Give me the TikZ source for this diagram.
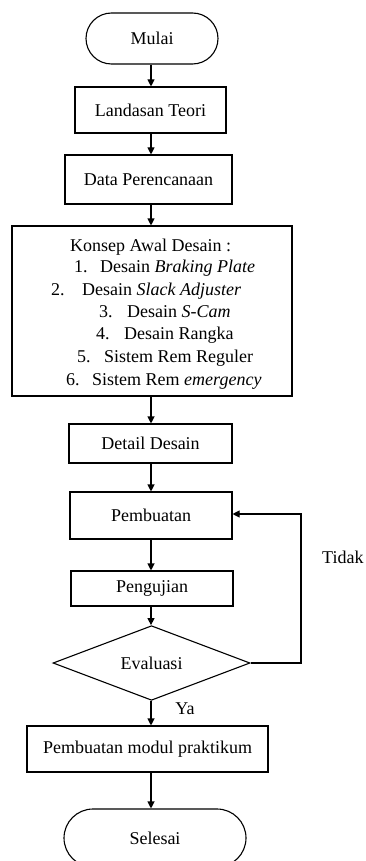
\documentclass[tikz,border=0pt]{standalone}
\usepackage{fontspec}
\setmainfont{Liberation Serif}
\usetikzlibrary{arrows.meta,shapes.misc,shapes.geometric}
\begin{document}
\begin{tikzpicture}[x=1pt,y=-1pt,
  every node/.style={font=\fontsize{18}{22.5}\selectfont},
  box/.style={draw,line width=1.1pt,rectangle,inner sep=0pt},
  term/.style={draw,line width=1.1pt,rounded rectangle,inner sep=0pt},
  dec/.style={draw,line width=1.1pt,diamond,inner sep=0pt},
  arr/.style={line width=1.1pt,-{Triangle[length=7pt,width=7pt]}},
  lst/.style={anchor=base west,inner sep=0pt},
  lbl/.style={inner sep=0pt}]
\useasboundingbox (0,0) rectangle (366,861);
\coordinate (axis) at (151,0);
\coordinate (fb) at (301,0);
\node[term,minimum width=132pt,minimum height=51pt] (mulai) at (152,38.5) {Mulai};
\node[box,minimum width=151pt,minimum height=46pt] (teori) at (150.5,110) {Landasan Teori};
\node[box,minimum width=167pt,minimum height=49pt] (data) at (148.5,179.5) {Data Perencanaan};
\node[box,minimum width=280pt,minimum height=170pt] (konsep) at (152,311) {};
\node[lst] (k0) at (70,251) {Konsep Awal Desain :};
\node[lst] (k1) at (74,272) {\makebox[26pt][l]{1.}Desain \textit{Braking Plate}};
\node[lst] (k2) at (51,295) {\makebox[31pt][l]{2.}Desain \textit{Slack Adjuster}};
\node[lst] (k3) at (99,317) {\makebox[28pt][l]{3.}Desain \textit{S-Cam}};
\node[lst] (k4) at (96,339) {\makebox[28pt][l]{4.}Desain Rangka};
\node[lst] (k5) at (77,362) {\makebox[27pt][l]{5.}Sistem Rem Reguler};
\node[lst] (k6) at (66,385) {\makebox[26pt][l]{6.}Sistem Rem \textit{emergency}};
\node[box,minimum width=163pt,minimum height=39pt] (detail) at (150.5,443.5) {Detail Desain};
\node[box,minimum width=162pt,minimum height=47pt] (pemb) at (151,515.5) {Pembuatan};
\node[box,minimum width=162pt,minimum height=35pt] (uji) at (152,588.5) {Pengujian};
\node[dec,minimum width=197pt,minimum height=64pt] (eval) at (151.5,663) {Evaluasi};
\node[box,minimum width=241pt,minimum height=46pt] (modul) at (147.5,749) {Pembuatan modul praktikum};
\node[term,minimum width=182pt,minimum height=58pt] (selesai) at (155,838) {Selesai};
\node[lbl,anchor=west] (tidak) at (322,557) {Tidak};
\node[lbl] (ya) at (185,709) {Ya};
\draw[arr] (mulai.south -| axis) -- (teori.north -| axis);
\draw[arr] (teori.south -| axis) -- (data.north -| axis);
\draw[arr] (data.south -| axis) -- (konsep.north -| axis);
\draw[arr] (konsep.south -| axis) -- (detail.north -| axis);
\draw[arr] (detail.south -| axis) -- (pemb.north -| axis);
\draw[arr] (pemb.south -| axis) -- (uji.north -| axis);
\draw[arr] (uji.south -| axis) -- (eval.north -| axis);
\draw[arr] (eval.south -| axis) -- (modul.north -| axis);
\draw[arr] (modul.south -| axis) -- (selesai.north -| axis);
\draw[arr] (eval.east) -- (eval.east -| fb) -- ([yshift=1.5pt]pemb.east -| fb) -- ([yshift=1.5pt]pemb.east);
\end{tikzpicture}
\end{document}
